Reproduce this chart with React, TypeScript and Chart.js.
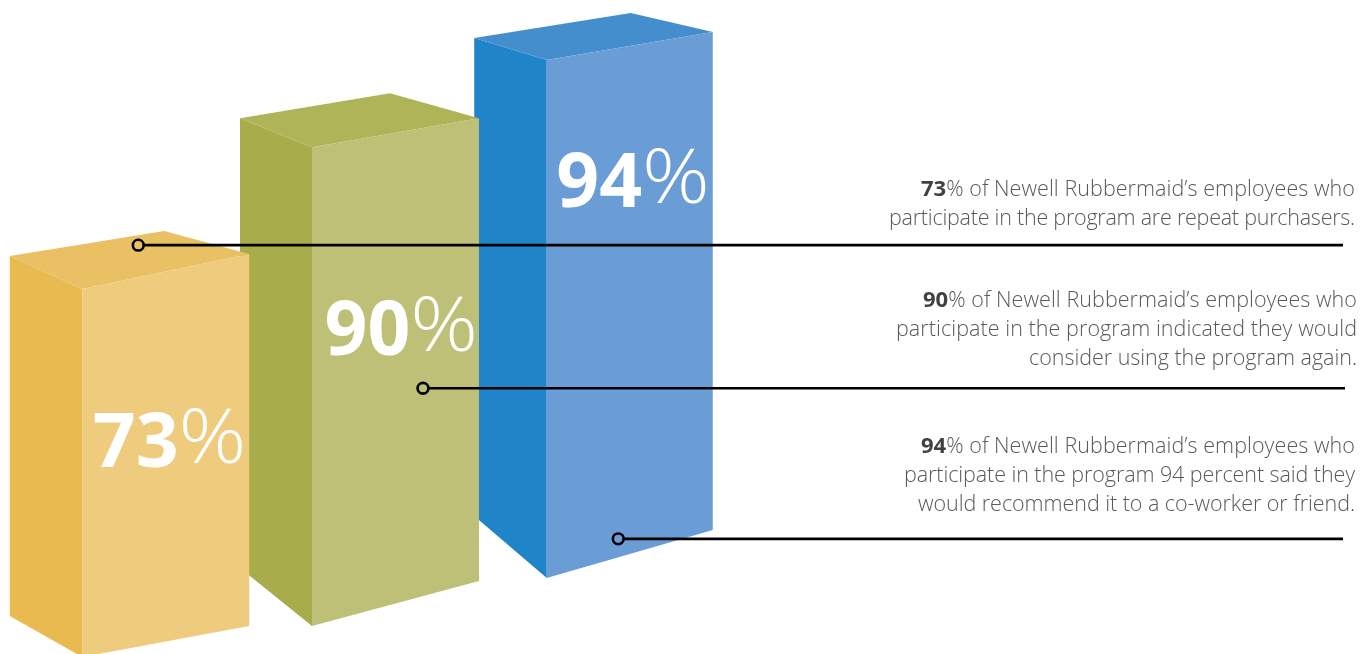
import React, { useEffect, useRef } from "react";
import { Chart, registerables } from "chart.js";

Chart.register(...registerables);

// Survey results
const categories = ["Repeat purchasers", "Would use again", "Would recommend"];
const percentages = [73, 90, 94];
const barNames = ["repeat", "again", "recommend"];

// Callout copy, one list of lines per bar; the first line opens with the figure in bold
const calloutTails = [
  ["% of Newell Rubbermaid\u2019s employees who", "participate in the program are repeat purchasers."],
  ["% of Newell Rubbermaid\u2019s employees who", "participate in the program indicated they would", "consider using the program again."],
  ["% of Newell Rubbermaid\u2019s employees who", "participate in the program 94 percent said they", "would recommend it to a co-worker or friend."],
];

const FONT = '"Open Sans"';

// Each bar stands on its own perspective axis
const axes = [
  { id: "yRepeat", min: 0.595, max: 130.33 },
  { id: "yAgain", min: -5.26, max: 117.7 },
  { id: "yRecommend", min: -13.8, max: 104.9 },
];

const faceColors = [
  { front: "#EFCB7E", side: "#E8BA50", top: "#E9C064" },
  { front: "#BEC077", side: "#A8AC4A", top: "#AFB458" },
  { front: "#6A9DD6", side: "#1F84C8", top: "#448ECE" },
];

// Projection of each prism relative to its front-left edge
const prisms = [
  { nudge: 0.5, width: 167, sideDx: -72.5, sideTopDy: -33, sideBaseDy: -41, frontTopDy: -35, frontBaseDy: -31, apexDx: 82, apexDy: -58 },
  { nudge: -2, width: 167, sideDx: -72, sideTopDy: -29, sideBaseDy: -58, frontTopDy: -29, frontBaseDy: -45, apexDx: 78, apexDy: -54 },
  { nudge: 0.5, width: 166, sideDx: -72.5, sideTopDy: -22, sideBaseDy: -62, frontTopDy: -28, frontBaseDy: -48, apexDx: 84, apexDy: -47 },
];

const valueLabels = [
  { dx: 10.5, dy: 178 },
  { dx: 12.5, dy: 208 },
  { dx: 9.5, dy: 147 },
];

// Leader lines: anchor on the bar's own axis, then the text block they belong to
const leaders = [
  { dx: -27, atValue: 81.7, endX: 1343, textRight: 1355, firstBaseline: 196, lineLefts: [921, 889] },
  { dx: 25.5, atValue: 44.7, endX: 1345, textRight: 1357, firstBaseline: 307, lineLefts: [923, 896, 1029] },
  { dx: -11.5, atValue: 7.1, endX: 1343, textRight: 1355, firstBaseline: 453, lineLefts: [921, 904, 918] },
];

const fillPoly = (ctx: CanvasRenderingContext2D, color: string, pts: number[][]) => {
  ctx.fillStyle = color;
  ctx.beginPath();
  pts.forEach(([x, y], i) => (i ? ctx.lineTo(x, y) : ctx.moveTo(x, y)));
  ctx.closePath();
  ctx.fill();
};

// Replaces the flat rectangle of each bar with a three-faced prism
const prismPlugin = {
  id: "prism",
  beforeDatasetDraw(chart: any, args: any) {
    const i = args.index;
    const bar = args.meta.data[i];
    const scale = chart.scales[axes[i].id];
    const p = prisms[i];
    const c = faceColors[i];
    const left = bar.x - bar.width / 2 + p.nudge;
    const right = left + p.width;
    const top = scale.getPixelForValue(percentages[i]);
    const base = scale.getPixelForValue(0);
    const ctx = chart.ctx;
    ctx.save();
    fillPoly(ctx, c.side, [
      [left + p.sideDx, top + p.sideTopDy],
      [left, top],
      [left, base],
      [left + p.sideDx, base + p.sideBaseDy],
    ]);
    fillPoly(ctx, c.top, [
      [left + p.sideDx, top + p.sideTopDy],
      [left + p.apexDx, top + p.apexDy],
      [right, top + p.frontTopDy],
      [left, top],
    ]);
    fillPoly(ctx, c.front, [
      [left, top],
      [right, top + p.frontTopDy],
      [right, base + p.frontBaseDy],
      [left, base],
    ]);
    const lab = valueLabels[i];
    const lx = left + lab.dx;
    const ly = top + lab.dy;
    ctx.textAlign = "left";
    ctx.textBaseline = "alphabetic";
    ctx.fillStyle = "#FFFFFF";
    ctx.font = `700 75px ${FONT}`;
    const num = String(percentages[i]);
    ctx.fillText(num, lx, ly);
    const w = ctx.measureText(num).width;
    ctx.font = `300 75px ${FONT}`;
    // The percent sign sits a little high and runs wider than the figures
    ctx.translate(lx + w, ly - 4);
    ctx.scale(1.12, 1);
    ctx.fillText("%", 0, 0);
    ctx.restore();
    return false;
  },
};

// Leader lines and the right-hand captions
const calloutPlugin = {
  id: "callouts",
  afterDraw(chart: any) {
    const ctx = chart.ctx;
    ctx.save();
    percentages.forEach((value, i) => {
      const bar = chart.getDatasetMeta(i).data[i];
      const l = leaders[i];
      const x = bar.x + l.dx;
      const y = chart.scales[axes[i].id].getPixelForValue(l.atValue);
      const r = 5.4;
      ctx.strokeStyle = "#000000";
      ctx.lineWidth = 2.6;
      ctx.beginPath();
      ctx.arc(x, y, r, 0, Math.PI * 2);
      ctx.stroke();
      ctx.beginPath();
      ctx.moveTo(x + r, y);
      ctx.lineTo(l.endX, y);
      ctx.stroke();

      ctx.textBaseline = "alphabetic";
      ctx.textAlign = "left";
      calloutTails[i].forEach((line, n) => {
        const ly = l.firstBaseline + n * 29.2;
        const num = n === 0 ? String(value) : "";
        ctx.letterSpacing = "0px";
        ctx.font = `700 22px ${FONT}`;
        const numW = num ? ctx.measureText(num).width : 0;
        ctx.font = `300 21.5px ${FONT}`;
        const natural = ctx.measureText(line).width;
        // Tracking is set per line so each one fills its measure
        const available = l.textRight - l.lineLefts[n] - numW;
        ctx.letterSpacing = `${(available - natural) / line.length}px`;
        ctx.fillStyle = "#58595B";
        ctx.fillText(line, l.lineLefts[n] + numW, ly);
        if (num) {
          ctx.letterSpacing = "0px";
          ctx.font = `700 22px ${FONT}`;
          ctx.fillStyle = "#414042";
          ctx.fillText(num, l.lineLefts[n], ly);
        }
      });
      ctx.letterSpacing = "0px";
    });
    ctx.restore();
  },
};

export default function App() {
  const ref = useRef<HTMLCanvasElement | null>(null);

  useEffect(() => {
    const scales: any = {
      x: { type: "category", display: false, offset: true, grid: { display: false } },
    };
    axes.forEach((a) => {
      scales[a.id] = { type: "linear", display: false, min: a.min, max: a.max };
    });

    const chart = new Chart(ref.current as HTMLCanvasElement, {
      type: "bar",
      data: {
        labels: categories,
        // Earlier datasets paint last, so the shortest bar overlaps its neighbour
        datasets: percentages.map((value, i) => ({
          label: barNames[i],
          data: percentages.map((_, j) => (j === i ? value : null)),
          yAxisID: axes[i].id,
          backgroundColor: faceColors[i].front,
          barThickness: 167,
          grouped: false,
        })),
      },
      options: {
        animation: false,
        responsive: false,
        events: [],
        layout: { padding: { left: 49.125, right: 615.125, top: 0, bottom: 0 } },
        plugins: { legend: { display: false }, tooltip: { enabled: false } },
        scales,
      },
      plugins: [prismPlugin, calloutPlugin],
    } as any);
    return () => chart.destroy();
  }, []);

  return (
    <div style={{ position: "absolute", left: 0, top: 0, width: 1361, height: 654, overflow: "hidden", background: "#fff" }}>
      <canvas ref={ref} width={1361} height={654} style={{ display: "block" }} />
    </div>
  );
}
